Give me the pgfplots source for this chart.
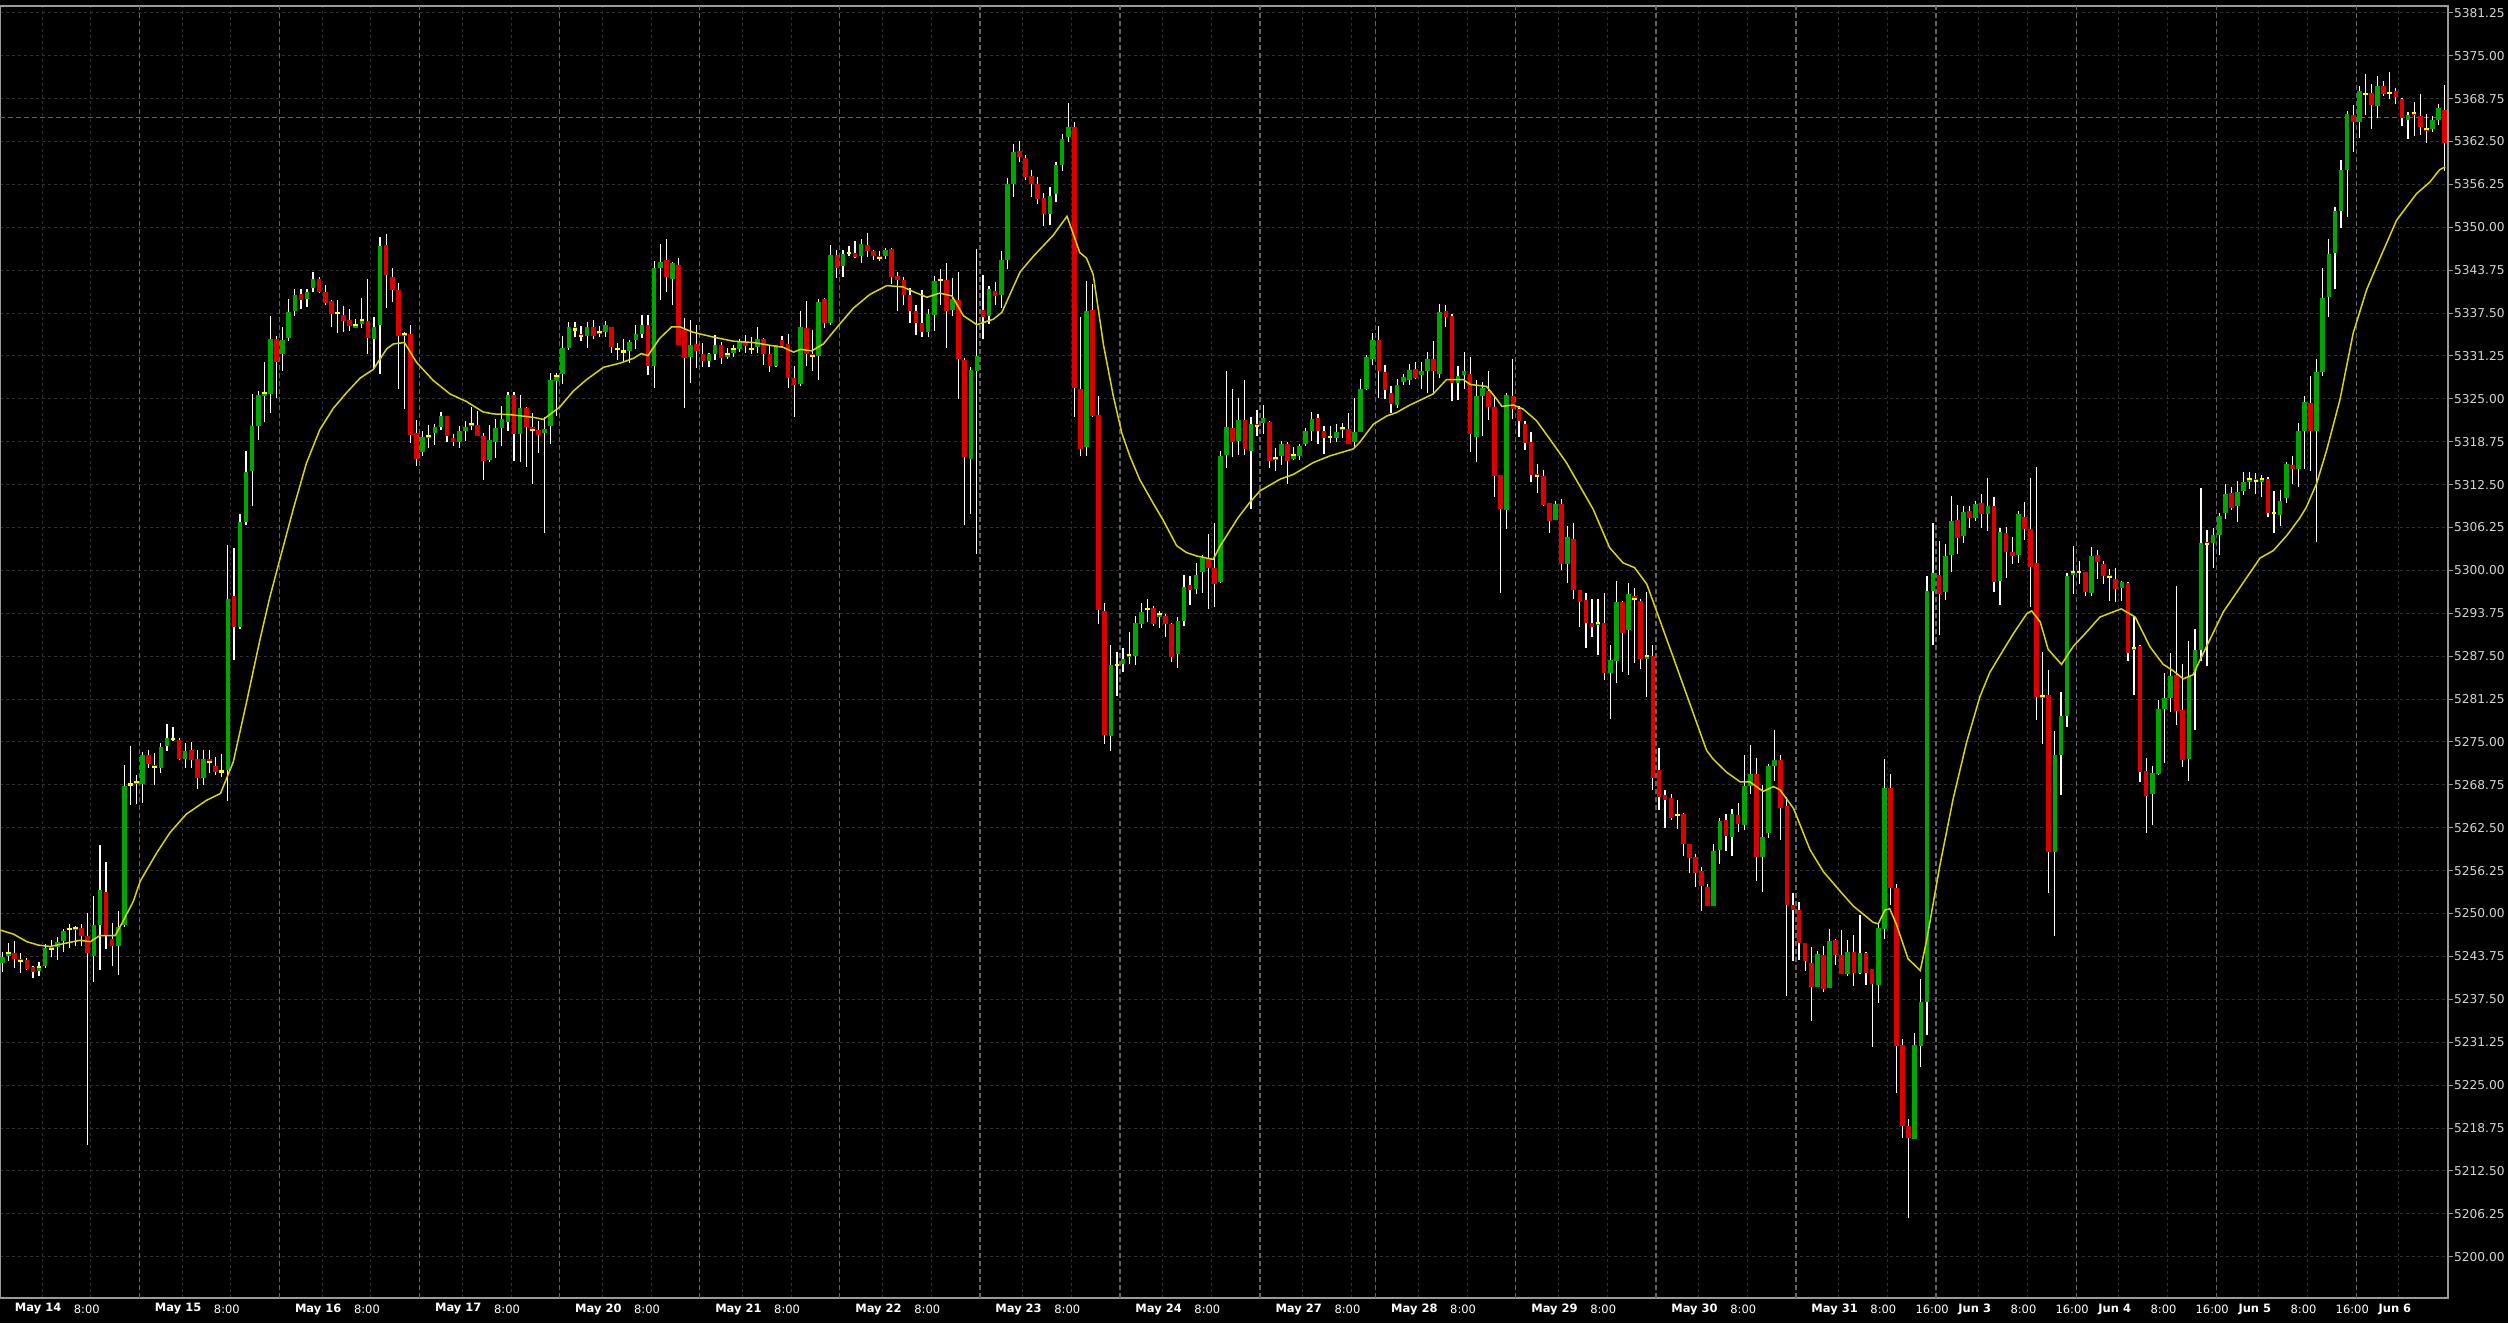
\documentclass[border=0pt]{standalone}
\usepackage{pgfplots}
\usepackage{pgfplotstable}
\pgfplotsset{compat=1.18}
\usepackage{fontspec}
\setmainfont{DejaVu Sans}
\definecolor{cgreen}{HTML}{00A600}
\definecolor{cred}{HTML}{DC0000}
\definecolor{cdoji}{HTML}{FFFF00}
\definecolor{gridc}{HTML}{2E2E2E}
\definecolor{sepc}{HTML}{646464}
\definecolor{axc}{HTML}{9A9A9A}
\definecolor{mac}{HTML}{D8D800}
\definecolor{ylab}{HTML}{D4D4D4}

\pgfplotstableread{
i o h l c
0 5242.8 5244.5 5241.6 5243.7
1 5244.0 5245.7 5243.2 5244.2
2 5244.4 5246.1 5242.1 5243.5
3 5243.4 5244.2 5241.4 5243.1
4 5243.3 5243.6 5241.9 5242.0
5 5242.3 5242.5 5240.7 5241.6
6 5241.7 5242.9 5240.8 5242.2
7 5242.5 5245.6 5242.1 5245.1
8 5245.2 5246.2 5243.8 5244.8
9 5245.2 5246.7 5243.4 5246.0
10 5246.1 5247.9 5244.6 5247.5
11 5247.6 5248.5 5245.0 5247.7
12 5247.8 5248.2 5245.3 5247.9
13 5247.9 5248.5 5245.3 5246.8
14 5246.8 5250.2 5216.3 5244.3
15 5244.0 5252.7 5240.1 5248.5
16 5248.5 5260.1 5241.9 5253.5
17 5253.2 5257.6 5245.0 5246.9
18 5246.5 5248.7 5242.4 5245.4
19 5245.4 5250.4 5241.1 5248.2
20 5248.5 5271.7 5248.1 5268.7
21 5268.9 5274.4 5265.8 5268.8
22 5269.0 5270.2 5266.0 5269.2
23 5268.9 5273.6 5266.2 5273.1
24 5273.2 5273.9 5271.3 5271.9
25 5271.6 5273.6 5268.9 5271.3
26 5271.2 5274.9 5270.6 5274.2
27 5274.4 5277.8 5273.9 5275.7
28 5275.5 5277.2 5275.2 5275.5
29 5275.3 5275.7 5272.5 5272.6
30 5272.6 5274.9 5271.3 5273.9
31 5273.9 5275.1 5271.3 5272.5
32 5272.5 5273.9 5268.3 5269.8
33 5269.8 5274.0 5268.8 5272.6
34 5272.6 5274.0 5270.6 5272.1
35 5271.7 5272.9 5270.2 5270.8
36 5270.7 5273.3 5270.0 5270.7
37 5270.9 5303.7 5266.4 5295.9
38 5296.3 5303.4 5287.1 5291.8
39 5291.8 5308.3 5291.6 5307.0
40 5307.0 5317.5 5306.6 5314.4
41 5314.6 5325.8 5309.5 5321.1
42 5321.1 5326.2 5319.0 5325.6
43 5325.6 5330.4 5321.7 5325.8
44 5325.7 5337.1 5323.0 5333.8
45 5333.8 5334.2 5325.2 5330.4
46 5331.6 5335.4 5329.0 5333.6
47 5333.8 5339.7 5333.5 5337.6
48 5337.9 5341.1 5337.1 5340.3
49 5340.3 5341.1 5338.2 5339.4
50 5339.7 5341.1 5338.4 5340.7
51 5341.3 5343.5 5340.5 5342.5
52 5342.5 5342.8 5340.5 5340.7
53 5340.7 5341.7 5338.8 5339.1
54 5339.3 5339.4 5335.4 5337.4
55 5337.6 5339.5 5334.8 5337.5
56 5337.3 5338.6 5334.8 5336.4
57 5336.5 5338.2 5335.0 5335.6
58 5335.6 5336.7 5335.4 5335.7
59 5336.0 5339.7 5335.4 5336.5
60 5336.4 5342.6 5331.8 5333.8
61 5333.8 5336.9 5329.3 5335.5
62 5335.9 5348.6 5328.7 5347.3
63 5347.3 5349.1 5338.4 5343.0
64 5342.8 5344.1 5339.2 5340.9
65 5340.9 5342.0 5326.6 5334.2
66 5334.4 5334.8 5323.6 5334.5
67 5334.5 5335.8 5318.6 5319.9
68 5320.0 5322.1 5315.4 5316.3
69 5317.3 5320.4 5316.7 5319.5
70 5319.5 5321.3 5317.9 5319.6
71 5320.1 5321.5 5318.4 5321.0
72 5321.0 5323.2 5320.6 5322.5
73 5322.5 5322.6 5318.7 5319.6
74 5319.5 5320.0 5318.2 5318.8
75 5318.8 5321.1 5317.9 5320.3
76 5320.4 5321.8 5318.9 5321.0
77 5321.2 5323.9 5320.6 5321.3
78 5321.3 5323.2 5319.5 5319.7
79 5319.7 5320.1 5313.3 5316.1
80 5316.1 5321.3 5315.8 5319.0
81 5318.8 5322.2 5316.5 5320.8
82 5320.8 5324.0 5318.2 5322.1
83 5321.8 5326.1 5320.4 5325.7
84 5325.7 5326.1 5316.0 5320.0
85 5320.0 5325.7 5316.0 5323.8
86 5323.8 5323.9 5315.1 5321.0
87 5321.0 5323.0 5312.7 5320.5
88 5320.5 5321.8 5317.1 5319.8
89 5320.0 5322.3 5305.5 5320.7
90 5321.0 5328.9 5318.6 5327.8
91 5327.8 5328.9 5322.6 5328.3
92 5328.8 5334.3 5327.3 5332.5
93 5332.5 5336.3 5332.2 5335.5
94 5335.5 5336.3 5334.0 5335.1
95 5334.5 5335.7 5333.5 5334.1
96 5334.3 5336.3 5332.5 5335.5
97 5335.5 5336.5 5333.8 5334.3
98 5334.6 5335.7 5334.0 5334.8
99 5334.8 5336.5 5334.2 5335.8
100 5335.5 5335.6 5331.8 5332.6
101 5332.2 5333.3 5330.7 5332.2
102 5331.9 5333.7 5330.4 5331.9
103 5332.0 5333.7 5330.3 5333.3
104 5333.6 5335.8 5332.4 5334.6
105 5334.5 5337.2 5333.9 5335.8
106 5335.8 5337.2 5328.4 5329.9
107 5329.9 5345.2 5326.7 5344.1
108 5344.1 5347.6 5339.5 5345.0
109 5345.3 5348.3 5340.6 5342.8
110 5342.5 5345.0 5338.7 5344.8
111 5344.6 5345.5 5332.9 5333.0
112 5335.1 5336.9 5323.7 5331.0
113 5331.3 5336.6 5327.3 5333.0
114 5333.0 5335.8 5329.6 5332.0
115 5331.6 5333.3 5329.8 5330.6
116 5330.6 5331.8 5329.8 5331.6
117 5331.6 5334.3 5330.7 5333.0
118 5333.0 5333.4 5330.1 5331.0
119 5331.2 5332.4 5330.8 5331.6
120 5331.8 5333.0 5331.2 5332.3
121 5332.3 5333.8 5331.9 5333.3
122 5333.3 5334.3 5331.7 5332.6
123 5332.6 5334.1 5331.7 5332.3
124 5332.6 5335.5 5331.8 5333.8
125 5333.8 5333.9 5330.1 5331.6
126 5331.6 5332.8 5329.0 5329.9
127 5329.9 5333.0 5329.8 5332.9
128 5333.6 5334.3 5332.5 5332.8
129 5333.0 5334.5 5326.7 5328.1
130 5328.1 5329.9 5322.5 5327.1
131 5327.1 5337.9 5327.0 5335.5
132 5335.4 5339.3 5329.9 5331.6
133 5331.6 5335.1 5329.1 5331.3
134 5331.3 5339.7 5327.9 5339.2
135 5339.7 5339.8 5335.3 5336.2
136 5336.2 5347.6 5335.9 5346.0
137 5346.0 5346.8 5342.7 5344.1
138 5344.3 5346.7 5342.7 5346.1
139 5346.2 5347.3 5345.8 5346.3
140 5346.5 5348.0 5345.5 5345.9
141 5345.9 5348.3 5344.8 5347.7
142 5347.5 5349.3 5345.8 5346.7
143 5346.7 5346.9 5345.5 5345.9
144 5345.9 5346.5 5345.1 5345.5
145 5345.8 5347.1 5345.5 5346.7
146 5346.9 5347.1 5341.8 5342.8
147 5342.9 5343.5 5337.8 5342.3
148 5342.3 5342.8 5338.8 5340.2
149 5340.2 5341.3 5336.1 5337.9
150 5337.8 5338.8 5334.4 5336.1
151 5336.1 5340.9 5334.1 5334.8
152 5334.8 5338.1 5334.0 5337.4
153 5337.3 5342.9 5334.9 5342.3
154 5342.3 5344.0 5338.8 5342.3
155 5342.3 5344.8 5332.4 5337.8
156 5338.0 5342.6 5337.1 5339.6
157 5339.4 5343.5 5325.0 5330.9
158 5330.7 5331.1 5306.7 5316.6
159 5316.3 5329.7 5308.3 5329.2
160 5329.2 5346.9 5302.5 5331.4
161 5337.9 5343.1 5333.8 5336.9
162 5337.1 5341.6 5336.1 5341.0
163 5340.9 5342.0 5338.6 5340.2
164 5340.2 5346.7 5338.3 5345.3
165 5345.3 5357.3 5344.0 5356.4
166 5356.4 5362.2 5354.5 5361.0
167 5361.2 5362.7 5359.6 5360.3
168 5360.2 5360.7 5357.0 5357.5
169 5357.5 5358.4 5354.5 5356.3
170 5356.4 5357.4 5353.5 5354.3
171 5354.3 5355.2 5350.3 5352.0
172 5352.0 5355.9 5350.3 5354.6
173 5355.0 5359.5 5353.8 5359.2
174 5359.2 5363.7 5358.3 5363.0
175 5363.3 5368.2 5362.5 5364.7
176 5364.7 5365.4 5322.4 5326.6
177 5326.6 5337.1 5316.8 5317.9
178 5318.0 5342.2 5316.8 5337.9
179 5337.9 5341.8 5322.4 5322.5
180 5322.7 5325.5 5292.3 5294.3
181 5294.1 5295.4 5274.9 5276.0
182 5276.0 5289.2 5273.7 5286.4
183 5286.2 5288.2 5281.8 5286.2
184 5286.4 5288.9 5285.4 5287.1
185 5287.6 5291.1 5286.4 5287.7
186 5287.6 5293.4 5286.2 5292.4
187 5292.4 5295.3 5291.6 5294.1
188 5294.4 5295.9 5292.6 5294.4
189 5294.7 5294.8 5291.9 5292.4
190 5293.2 5294.1 5291.6 5293.7
191 5293.4 5293.8 5290.5 5292.3
192 5292.3 5292.4 5286.6 5287.5
193 5287.8 5293.3 5285.9 5292.7
194 5292.7 5299.3 5291.9 5297.6
195 5298.0 5299.3 5295.1 5297.3
196 5297.3 5301.2 5296.6 5299.4
197 5299.8 5302.4 5296.9 5301.8
198 5301.8 5305.3 5294.4 5300.4
199 5300.4 5307.0 5294.7 5298.1
200 5298.3 5317.5 5298.2 5316.7
201 5316.8 5329.2 5315.0 5320.9
202 5320.7 5326.6 5316.7 5318.7
203 5319.0 5325.2 5316.9 5322.1
204 5322.0 5327.8 5316.8 5317.9
205 5317.5 5322.5 5309.1 5321.4
206 5321.4 5323.5 5319.8 5321.0
207 5321.5 5324.2 5320.0 5322.2
208 5321.7 5321.8 5315.0 5316.1
209 5316.1 5317.9 5314.6 5316.4
210 5316.8 5319.0 5315.4 5318.5
211 5318.6 5318.7 5312.6 5316.1
212 5316.3 5318.1 5316.2 5316.8
213 5316.8 5318.5 5316.2 5318.2
214 5318.5 5320.7 5318.1 5320.4
215 5320.4 5323.2 5319.0 5322.2
216 5322.2 5322.9 5318.4 5320.3
217 5320.4 5321.1 5317.1 5319.5
218 5319.6 5321.1 5318.7 5319.4
219 5319.3 5321.3 5318.7 5320.2
220 5320.5 5321.6 5319.5 5320.7
221 5320.7 5323.0 5318.5 5318.6
222 5318.7 5325.2 5318.1 5320.2
223 5320.3 5327.8 5320.1 5326.5
224 5326.6 5331.5 5326.4 5331.2
225 5330.9 5334.7 5330.1 5333.6
226 5333.6 5335.7 5325.2 5329.2
227 5329.0 5330.0 5325.0 5326.3
228 5325.9 5327.0 5323.0 5324.3
229 5324.3 5328.0 5323.7 5327.2
230 5327.5 5328.6 5327.1 5328.3
231 5327.9 5330.2 5327.1 5329.4
232 5329.4 5330.4 5327.9 5328.0
233 5328.4 5330.3 5326.5 5329.0
234 5329.1 5331.9 5325.9 5330.9
235 5330.9 5333.5 5325.8 5329.1
236 5328.7 5338.9 5328.1 5337.7
237 5337.9 5338.8 5335.6 5337.0
238 5337.2 5337.4 5324.7 5327.4
239 5327.4 5329.8 5324.9 5328.4
240 5328.5 5331.9 5326.5 5329.1
241 5328.7 5331.2 5317.4 5320.0
242 5319.6 5327.9 5315.9 5325.5
243 5325.5 5327.4 5319.6 5326.6
244 5326.3 5329.2 5322.0 5323.9
245 5323.8 5325.4 5310.8 5313.8
246 5314.0 5314.1 5296.8 5309.0
247 5309.0 5326.0 5306.2 5325.7
248 5325.5 5330.8 5322.0 5323.6
249 5323.6 5324.0 5319.4 5321.8
250 5321.5 5321.9 5317.7 5318.7
251 5318.9 5320.1 5312.9 5314.0
252 5314.0 5315.5 5311.4 5313.8
253 5313.7 5314.7 5309.4 5309.5
254 5309.8 5309.9 5305.6 5307.3
255 5307.5 5310.1 5307.4 5309.8
256 5309.8 5310.5 5300.1 5301.0
257 5301.0 5306.5 5298.2 5304.9
258 5304.7 5307.0 5296.0 5297.3
259 5297.2 5297.3 5291.9 5295.5
260 5295.8 5296.8 5288.7 5292.4
261 5292.4 5296.0 5290.4 5291.8
262 5292.1 5295.9 5287.7 5292.4
263 5292.4 5296.8 5284.1 5285.0
264 5285.1 5289.2 5278.4 5287.0
265 5287.0 5298.5 5283.6 5295.5
266 5295.5 5295.6 5285.3 5291.0
267 5291.3 5298.2 5284.8 5296.5
268 5296.3 5297.6 5286.6 5295.9
269 5295.5 5295.8 5285.6 5287.1
270 5287.4 5297.0 5281.6 5287.5
271 5287.6 5289.3 5268.2 5269.8
272 5271.1 5274.2 5265.3 5267.2
273 5267.3 5268.0 5262.4 5266.6
274 5266.9 5267.4 5263.6 5263.9
275 5264.3 5266.6 5262.4 5264.4
276 5264.6 5264.7 5258.5 5260.2
277 5260.2 5260.3 5256.0 5258.1
278 5258.4 5258.8 5254.0 5256.1
279 5256.3 5256.9 5250.5 5254.0
280 5254.0 5254.4 5251.1 5251.3
281 5251.2 5260.2 5251.1 5259.3
282 5259.3 5264.1 5257.4 5263.6
283 5263.6 5264.6 5259.3 5261.3
284 5261.1 5265.3 5258.4 5264.5
285 5264.5 5266.2 5261.9 5263.1
286 5262.9 5273.1 5262.2 5268.6
287 5268.6 5274.6 5267.4 5270.4
288 5270.4 5272.7 5254.9 5258.4
289 5258.4 5268.8 5253.2 5261.2
290 5261.7 5272.0 5261.1 5271.5
291 5271.6 5276.8 5269.4 5272.5
292 5272.5 5273.2 5260.7 5265.5
293 5265.8 5267.1 5238.1 5251.4
294 5251.4 5253.0 5243.1 5250.6
295 5250.6 5251.8 5243.4 5245.7
296 5245.7 5245.8 5241.8 5243.2
297 5242.9 5245.2 5234.4 5239.4
298 5239.4 5244.5 5239.2 5244.1
299 5244.1 5245.2 5238.6 5239.2
300 5239.2 5247.7 5239.1 5246.1
301 5246.3 5246.4 5242.7 5244.1
302 5244.1 5247.7 5241.2 5241.3
303 5241.3 5246.3 5241.0 5244.5
304 5244.5 5247.0 5239.6 5241.5
305 5241.5 5249.8 5241.3 5244.3
306 5244.3 5244.5 5239.6 5241.5
307 5241.9 5242.0 5230.6 5239.7
308 5239.7 5248.7 5237.1 5248.0
309 5247.8 5272.5 5246.3 5268.3
310 5268.3 5270.4 5251.3 5253.7
311 5253.7 5254.4 5224.0 5230.7
312 5230.9 5231.8 5217.4 5219.1
313 5219.1 5220.1 5205.7 5217.3
314 5217.3 5232.7 5217.2 5230.9
315 5230.9 5240.6 5227.8 5237.2
316 5237.2 5299.4 5232.5 5297.1
317 5297.1 5307.0 5289.3 5299.6
318 5299.4 5304.3 5290.6 5296.6
319 5297.0 5304.0 5295.8 5302.3
320 5302.3 5311.0 5299.9 5307.3
321 5307.3 5309.5 5302.4 5304.7
322 5305.0 5309.5 5304.2 5308.5
323 5308.8 5309.5 5306.3 5307.8
324 5307.8 5310.2 5307.3 5309.8
325 5309.8 5311.2 5306.3 5308.2
326 5308.2 5313.5 5305.7 5309.5
327 5309.5 5310.9 5297.0 5298.4
328 5298.4 5306.3 5295.1 5305.6
329 5305.6 5306.4 5299.0 5302.9
330 5302.8 5304.9 5301.0 5302.2
331 5302.2 5308.8 5301.2 5308.2
332 5307.8 5310.0 5304.5 5306.1
333 5306.1 5313.4 5294.6 5300.6
334 5301.2 5315.1 5278.2 5281.6
335 5281.6 5288.1 5274.8 5281.7
336 5281.9 5285.5 5253.0 5259.0
337 5259.0 5276.7 5246.8 5273.1
338 5273.1 5282.4 5267.3 5278.8
339 5278.9 5299.6 5277.2 5299.3
340 5299.6 5303.7 5296.7 5299.7
341 5299.8 5301.4 5298.0 5299.8
342 5299.8 5299.9 5296.3 5296.9
343 5296.7 5303.4 5296.3 5302.2
344 5302.2 5302.9 5298.7 5301.2
345 5301.0 5301.4 5298.0 5299.3
346 5299.4 5300.2 5295.5 5299.1
347 5298.8 5300.4 5295.5 5297.3
348 5297.5 5298.4 5295.5 5298.3
349 5298.3 5298.4 5286.9 5288.1
350 5288.6 5293.2 5281.9 5288.7
351 5289.0 5289.1 5269.1 5270.7
352 5270.9 5272.7 5261.8 5267.3
353 5267.4 5271.5 5262.9 5270.5
354 5270.5 5281.1 5270.2 5279.9
355 5279.9 5285.0 5272.0 5281.6
356 5281.5 5288.1 5279.5 5284.8
357 5284.8 5297.9 5277.6 5279.5
358 5279.7 5286.3 5271.3 5272.5
359 5272.7 5289.7 5269.4 5284.8
360 5285.4 5291.6 5276.8 5288.4
361 5288.4 5312.1 5286.9 5304.1
362 5304.1 5306.1 5286.2 5303.9
363 5304.0 5306.3 5300.4 5305.2
364 5305.2 5308.4 5302.4 5308.0
365 5308.4 5312.7 5307.6 5311.2
366 5311.4 5312.3 5309.0 5309.1
367 5309.4 5313.1 5307.1 5311.5
368 5311.6 5314.4 5311.0 5312.9
369 5313.2 5314.4 5312.0 5313.3
370 5313.3 5314.3 5311.3 5313.0
371 5313.2 5314.1 5310.8 5313.3
372 5313.3 5313.7 5307.9 5308.4
373 5308.3 5311.6 5305.5 5308.3
374 5308.2 5311.9 5306.6 5310.2
375 5310.5 5315.9 5310.0 5315.5
376 5315.5 5316.8 5312.7 5314.9
377 5314.9 5321.5 5312.1 5320.4
378 5320.4 5325.5 5314.9 5324.7
379 5324.5 5328.4 5314.5 5320.4
380 5320.4 5330.9 5304.3 5329.0
381 5329.0 5344.1 5328.4 5339.9
382 5339.9 5348.3 5336.9 5346.2
383 5346.2 5353.0 5341.0 5352.4
384 5352.4 5359.8 5349.9 5358.4
385 5358.4 5367.0 5351.6 5366.5
386 5366.5 5367.8 5361.0 5365.5
387 5365.5 5370.7 5363.1 5369.9
388 5369.6 5372.5 5366.5 5369.4
389 5369.6 5370.9 5364.3 5367.8
390 5367.8 5372.1 5366.0 5370.7
391 5370.7 5371.3 5369.1 5369.6
392 5369.5 5372.7 5368.8 5369.5
393 5369.9 5370.4 5368.0 5369.1
394 5368.8 5368.9 5364.9 5365.9
395 5365.9 5366.9 5362.9 5366.5
396 5366.7 5368.3 5363.4 5366.6
397 5366.2 5369.4 5363.4 5364.7
398 5364.4 5366.6 5362.3 5364.3
399 5364.3 5366.2 5363.9 5365.7
400 5365.7 5368.0 5364.9 5367.4
401 5367.2 5370.9 5358.4 5362.3
}\candles

\begin{document}
\begin{tikzpicture}
\useasboundingbox (0pt,0pt) rectangle (2508pt,1323pt);
\fill[black] (0pt,0pt) rectangle (2508pt,1323pt);
\begin{axis}[
  at={(0pt,25pt)}, anchor=south west,
  scale only axis, width=2448pt, height=1292pt,
  xmin=-0.41, xmax=401.56, ymin=5193.98, ymax=5382.24,
  axis background/.style={fill=black},
  axis line style={axc, line width=1.2pt},
  tick align=outside,
  major tick length=5pt,
  xtick style={draw=none},
  ytick style={axc, line width=1pt},
  ytick pos=right, yticklabel pos=right,
  xtick={6.5,14.5,29.5,37.5,52.5,60.5,75.5,83.5,98.5,106.5,121.5,129.5,144.5,152.5,167.5,175.5,190.5,198.5,213.5,221.5,232.5,240.5,255.5,263.5,278.5,286.5,301.5,309.5,324.5,332.5,347.5,355.5,370.5,378.5,393.5},
  xticklabels={{\bfseries May 14},{8:00},{\bfseries May 15},{8:00},{\bfseries May 16},{8:00},{\bfseries May 17},{8:00},{\bfseries May 20},{8:00},{\bfseries May 21},{8:00},{\bfseries May 22},{8:00},{\bfseries May 23},{8:00},{\bfseries May 24},{8:00},{\bfseries May 27},{8:00},{\bfseries May 28},{8:00},{\bfseries May 29},{8:00},{\bfseries May 30},{8:00},{\bfseries May 31},{8:00},{\bfseries Jun 3},{8:00},{\bfseries Jun 4},{8:00},{\bfseries Jun 5},{8:00},{\bfseries Jun 6}},
  extra x ticks={22.5,45.5,68.5,91.5,114.5,137.5,160.5,183.5,206.5,225.5,248.5,271.5,294.5,317.5,340.5,363.5,386.5},
  extra x tick labels={,,,,,,,,,,,,,16:00,16:00,16:00,16:00},
  extra x tick style={major x grid style={sepc, dash pattern=on 5pt off 3pt, line width=1.2pt}},
  xticklabel style={white, font=\fontsize{11.5}{13}\selectfont, anchor=center, yshift=-6pt, xshift=-4pt},
  ytick={5200,5206.25,5212.5,5218.75,5225,5231.25,5237.5,5243.75,5250,5256.25,5262.5,5268.75,5275,5281.25,5287.5,5293.75,5300,5306.25,5312.5,5318.75,5325,5331.25,5337.5,5343.75,5350,5356.25,5362.5,5368.75,5375,5381.25},
  yticklabels={5200.00,5206.25,5212.50,5218.75,5225.00,5231.25,5237.50,5243.75,5250.00,5256.25,5262.50,5268.75,5275.00,5281.25,5287.50,5293.75,5300.00,5306.25,5312.50,5318.75,5325.00,5331.25,5337.50,5343.75,5350.00,5356.25,5362.50,5368.75,5375.00,5381.25},
  yticklabel style={ylab, font=\fontsize{12.2}{14}\selectfont, anchor=west, inner sep=0pt, xshift=1pt},
  extra y ticks={5366.0},
  extra y tick labels={},
  extra y tick style={ytick style={draw=none}, major y grid style={sepc, dash pattern=on 5pt off 3pt, line width=1.2pt}},
  xmajorgrids, ymajorgrids,
  major grid style={gridc, dash pattern=on 3pt off 3pt, line width=1pt},
  clip=true,
]
% wicks
\addplot[draw=none, mark=none, forget plot,
  error bars/.cd, y dir=both, y explicit, error mark=none,
  error bar style={draw=white, line width=1.2pt}]
  table[x=i, y expr={(\thisrow{h}+\thisrow{l})/2}, y error expr={(\thisrow{h}-\thisrow{l})/2}]{\candles};
% up bodies
\addplot[draw=none, mark=none, forget plot, unbounded coords=discard,
  error bars/.cd, y dir=both, y explicit, error mark=none,
  error bar style={draw=cgreen, line width=4.6pt}]
  table[x=i, y expr={\thisrow{c}>\thisrow{o} ? (\thisrow{o}+\thisrow{c})/2 : nan}, y error expr={max(abs(\thisrow{c}-\thisrow{o})/2,0.15)}]{\candles};
% down bodies
\addplot[draw=none, mark=none, forget plot, unbounded coords=discard,
  error bars/.cd, y dir=both, y explicit, error mark=none,
  error bar style={draw=cred, line width=4.6pt}]
  table[x=i, y expr={\thisrow{c}<\thisrow{o} ? (\thisrow{o}+\thisrow{c})/2 : nan}, y error expr={max(abs(\thisrow{c}-\thisrow{o})/2,0.15)}]{\candles};
% unchanged
\addplot[draw=none, mark=none, forget plot, unbounded coords=discard,
  error bars/.cd, y dir=both, y explicit, error mark=none,
  error bar style={draw=cdoji, line width=4.6pt}]
  table[x=i, y expr={\thisrow{c}==\thisrow{o} ? \thisrow{c} : nan}, y error expr={0.15}]{\candles};
% moving average
\addplot[mac, line width=1.5pt] coordinates {
(-0.4,5247.6) (1.8,5247.0) (4.0,5245.9) (5.9,5245.4) (7.8,5245.2) (10.5,5245.7) (12.7,5246.1) (14.4,5245.9) (16.0,5246.8) (18.5,5246.8)
(19.8,5248.9) (21.5,5251.8) (22.6,5254.7) (25.3,5258.8) (27.5,5261.8) (30.2,5264.5) (33.5,5266.5) (35.8,5267.5) (37.9,5272.1) (40.1,5280.9)
(42.3,5290.0) (43.9,5296.1) (45.6,5301.8) (47.8,5309.1) (49.9,5315.6) (52.1,5320.5) (54.3,5323.6) (56.5,5325.9) (58.7,5328.0) (60.9,5329.3)
(63.1,5332.3) (64.2,5333.0) (66.0,5333.2) (68.0,5330.3) (70.7,5327.7) (73.5,5325.7) (76.2,5324.6) (78.9,5323.1) (80.6,5322.8) (83.3,5322.7)
(87.2,5322.3) (88.8,5322.0) (91.5,5323.8) (93.7,5326.1) (95.9,5327.8) (98.7,5329.6) (101.4,5330.2) (103.6,5330.9) (104.9,5331.6) (106.0,5331.3)
(107.9,5333.8) (109.9,5335.5) (111.2,5335.5) (113.4,5334.7) (116.7,5334.0) (120.0,5333.4) (123.3,5333.2) (126.0,5332.8) (128.2,5332.5) (129.9,5331.8)
(131.0,5332.2) (132.9,5332.0) (134.8,5333.0) (137.3,5335.7) (139.7,5338.2) (142.4,5340.2) (145.2,5341.5) (147.9,5341.3) (149.6,5340.6) (151.8,5339.8)
(153.9,5340.4) (155.9,5340.0) (157.8,5337.1) (160.0,5335.8) (162.7,5336.6) (164.1,5337.6) (167.1,5343.5) (169.3,5345.8) (172.5,5348.8) (174.8,5351.6)
(176.9,5346.3) (178.0,5345.5) (179.1,5343.1) (180.8,5332.8) (182.4,5325.4) (183.8,5320.0) (185.1,5316.7) (186.7,5313.3) (189.0,5309.7) (190.6,5307.3)
(192.8,5303.6) (194.4,5302.6) (196.1,5302.1) (198.8,5301.6) (199.9,5303.5) (202.9,5307.7) (204.8,5309.9) (206.5,5311.6) (209.8,5313.3) (212.0,5314.0)
(215.2,5315.7) (218.0,5316.7) (221.8,5317.7) (222.8,5318.6) (225.1,5321.3) (227.3,5322.5) (228.9,5323.0) (231.1,5324.1) (234.9,5325.7) (237.1,5327.8)
(239.9,5327.8) (241.0,5327.1) (243.7,5326.8) (245.4,5324.9) (246.2,5323.9) (248.1,5324.1) (249.7,5323.5) (251.9,5321.8) (254.1,5319.1) (256.8,5315.7)
(259.0,5312.3) (261.2,5308.9) (263.9,5303.3) (266.1,5301.1) (268.0,5300.4) (270.0,5298.0) (271.1,5295.3) (274.4,5287.2) (277.1,5280.5) (279.8,5273.8)
(280.9,5272.5) (283.1,5270.6) (285.3,5269.2) (286.9,5269.2) (289.1,5267.8) (290.8,5268.5) (291.9,5268.0) (294.1,5265.3) (296.8,5259.3) (299.0,5256.1)
(301.7,5253.3) (303.9,5251.1) (307.2,5248.7) (308.0,5248.5) (309.1,5250.5) (309.9,5250.7) (311.0,5248.4) (312.9,5243.4) (314.9,5241.7) (316.0,5246.3)
(318.1,5256.9) (320.3,5266.7) (322.5,5274.9) (324.7,5281.6) (326.3,5285.1) (328.0,5287.6) (330.2,5290.8) (332.4,5293.7) (333.2,5294.1) (334.6,5292.5)
(335.9,5288.5) (338.1,5286.3) (340.0,5288.9) (342.2,5291.0) (344.4,5293.2) (347.9,5294.4) (350.2,5293.2) (352.6,5288.9) (354.8,5286.3) (356.4,5285.4)
(358.1,5284.2) (359.7,5284.8) (361.9,5288.9) (364.7,5294.0) (368.0,5298.3) (370.7,5301.8) (372.9,5302.9) (375.1,5305.1) (377.2,5307.6) (378.3,5309.2)
(380.0,5312.7) (381.6,5317.4) (383.8,5324.8) (386.0,5334.6) (388.2,5340.9) (390.4,5345.5) (393.1,5351.0) (396.4,5354.9) (398.6,5356.6) (400.2,5358.4) (401.1,5358.8)
};
\end{axis}
\end{tikzpicture}
\end{document}
